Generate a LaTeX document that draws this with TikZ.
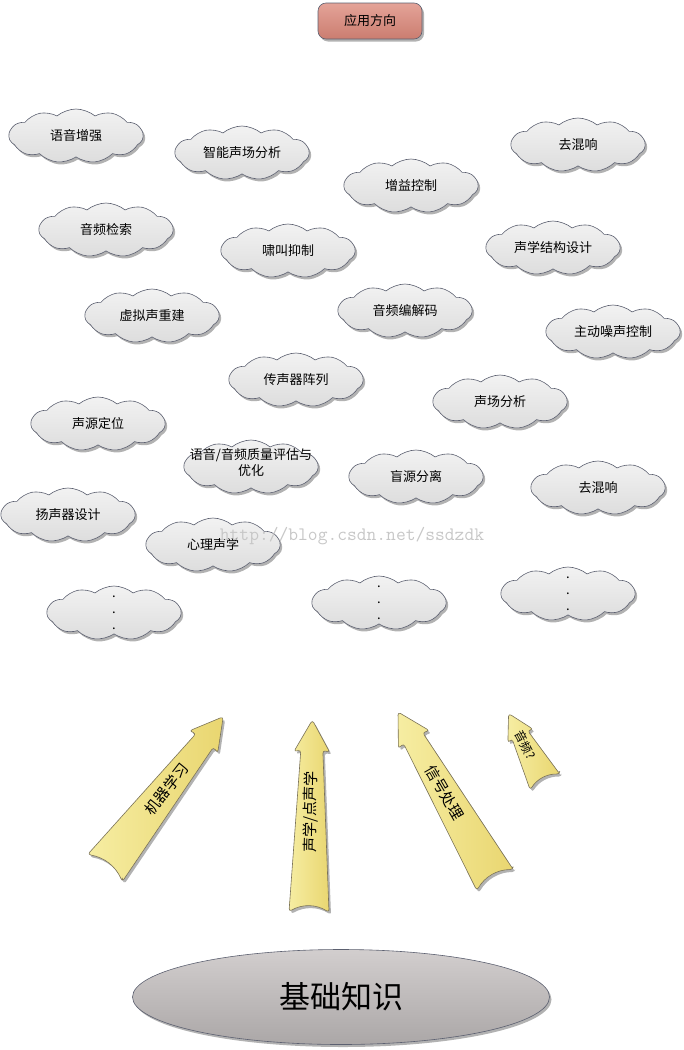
\documentclass[tikz,border=0pt]{standalone}
\usepackage{fontspec}
\setmainfont{Noto Sans CJK SC}
\usetikzlibrary{shapes.symbols,shapes.geometric,shadows}
\definecolor{CloudEdge}{HTML}{5C6070}
\definecolor{CloudLight}{HTML}{F2F2F2}
\definecolor{CloudDark}{HTML}{DDDDDD}
\definecolor{ArrowLight}{HTML}{F6EDA2}
\definecolor{ArrowDark}{HTML}{E9D670}
\definecolor{ArrowEdge}{HTML}{7A7258}
\definecolor{TitleLight}{HTML}{E4A398}
\definecolor{TitleDark}{HTML}{CB7D70}
\definecolor{BaseLight}{HTML}{D2CECE}
\definecolor{BaseDark}{HTML}{ABA7A7}

\newcommand\tightlines[1]{\smash{\makebox[0pt]{\begin{tabular}{@{}c@{}}#1\end{tabular}}}}

\tikzset{
  softshadow/.style={drop shadow={shadow xshift=2pt, shadow yshift=-2.5pt, opacity=0.3, fill=black}},
  topic/.style={shape=cloud, cloud puffs=11, cloud puff arc=80, cloud ignores aspect,
    minimum width=134pt, minimum height=54pt, inner sep=0pt,
    draw=CloudEdge, semithick, top color=CloudLight, bottom color=CloudDark, softshadow,
    font=\fontsize{13}{16}\selectfont},
  headbox/.style={rectangle, rounded corners=8pt, minimum width=104pt, minimum height=36pt,
    draw=CloudEdge, semithick, top color=TitleLight, bottom color=TitleDark, softshadow,
    font=\fontsize{13}{16}\selectfont},
  basis/.style={ellipse, minimum width=417pt, minimum height=95pt, inner sep=0pt,
    draw=CloudEdge, semithick, top color=BaseLight, bottom color=BaseDark, softshadow,
    font=\fontsize{31}{34}\selectfont},
  arrowbody/.style={draw=ArrowEdge, semithick, rounded corners=3pt,
    left color=ArrowLight, right color=ArrowDark, softshadow},
  arrowtext/.style={transform shape, inner sep=0pt, font=\fontsize{15}{17}\selectfont},
  watermark/.style={text=black!22, font=\ttfamily\fontsize{19}{19}\selectfont},
  pics/fatarrow/.style n args={4}{code={
    \path[arrowbody] (0,#2) -- (#1-30,11) -- (#1-32,18) -- (#1,0)
      -- (#1-32,-18) -- (#1-30,-11) -- (0,-#2)
      .. controls (8,-7) and (8,7) .. (0,#2) -- cycle;
    \node[arrowtext, rotate=#4] (-txt) at (#1/2+4,0) {#3};
  }},
}

\begin{document}
\begin{tikzpicture}[x=1pt, y=-1pt]
  \useasboundingbox (0,0) rectangle (684,1050);

  % Title
  \node[headbox] (apps) at (370,21) {应用方向};

  % Application clouds
  \node[topic] (speechenh) at (76,136) {语音增强};
  \node[topic] (smartfield) at (242,153) {智能声场分析};
  \node[topic] (dereverbA) at (578,145) {去混响};
  \node[topic] (gainctl) at (411,186) {增益控制};
  \node[topic] (audioret) at (106,230) {音频检索};
  \node[topic] (howlsup) at (288,251) {啸叫抑制};
  \node[topic] (structdes) at (553,248) {声学结构设计};
  \node[topic] (virtsound) at (152,316) {虚拟声重建};
  \node[topic] (codec) at (405,311) {音频编解码};
  \node[topic] (anc) at (613,332) {主动噪声控制};
  \node[topic] (micarray) at (296,380) {传声器阵列};
  \node[topic] (fieldana) at (500,402) {声场分析};
  \node[topic] (srcloc) at (98,424) {声源定位};
  \node[topic] (quality) at (251,467) {\tightlines{语音/音频质量评估与\\优化}};
  \node[topic] (bss) at (416,477) {盲源分离};
  \node[topic] (dereverbB) at (598,488) {去混响};
  \node[topic] (spkdes) at (68,515) {扬声器设计};
  \node[topic] (psycho) at (213,545) {心理声学};
  \node[topic] (moreA) at (114,613) {\tightlines{.\\.\\.}};
  \node[topic] (moreB) at (379,603) {\tightlines{.\\.\\.}};
  \node[topic] (moreC) at (568,594) {\tightlines{.\\.\\.}};

  % Foundation arrows
  \pic[rotate=52] (ml) at (105,868) {fatarrow={192}{22}{机器学习}{0}};
  \pic[rotate=89] (acou) at (309,912) {fatarrow={192}{20}{声学/点声学}{0}};
  \pic[rotate=120] (dsp) at (495,880) {fatarrow={194}{21}{信号处理}{180}};
  \pic[rotate=118, scale=0.8] (misc) at (545,782) {fatarrow={97}{21}{音频?}{180}};

  % Base
  \node[basis] (base) at (341,997) {基础知识};

  \node[watermark] (wm) at (352,536) {http://blog.csdn.net/ssdzdk};
\end{tikzpicture}
\end{document}
